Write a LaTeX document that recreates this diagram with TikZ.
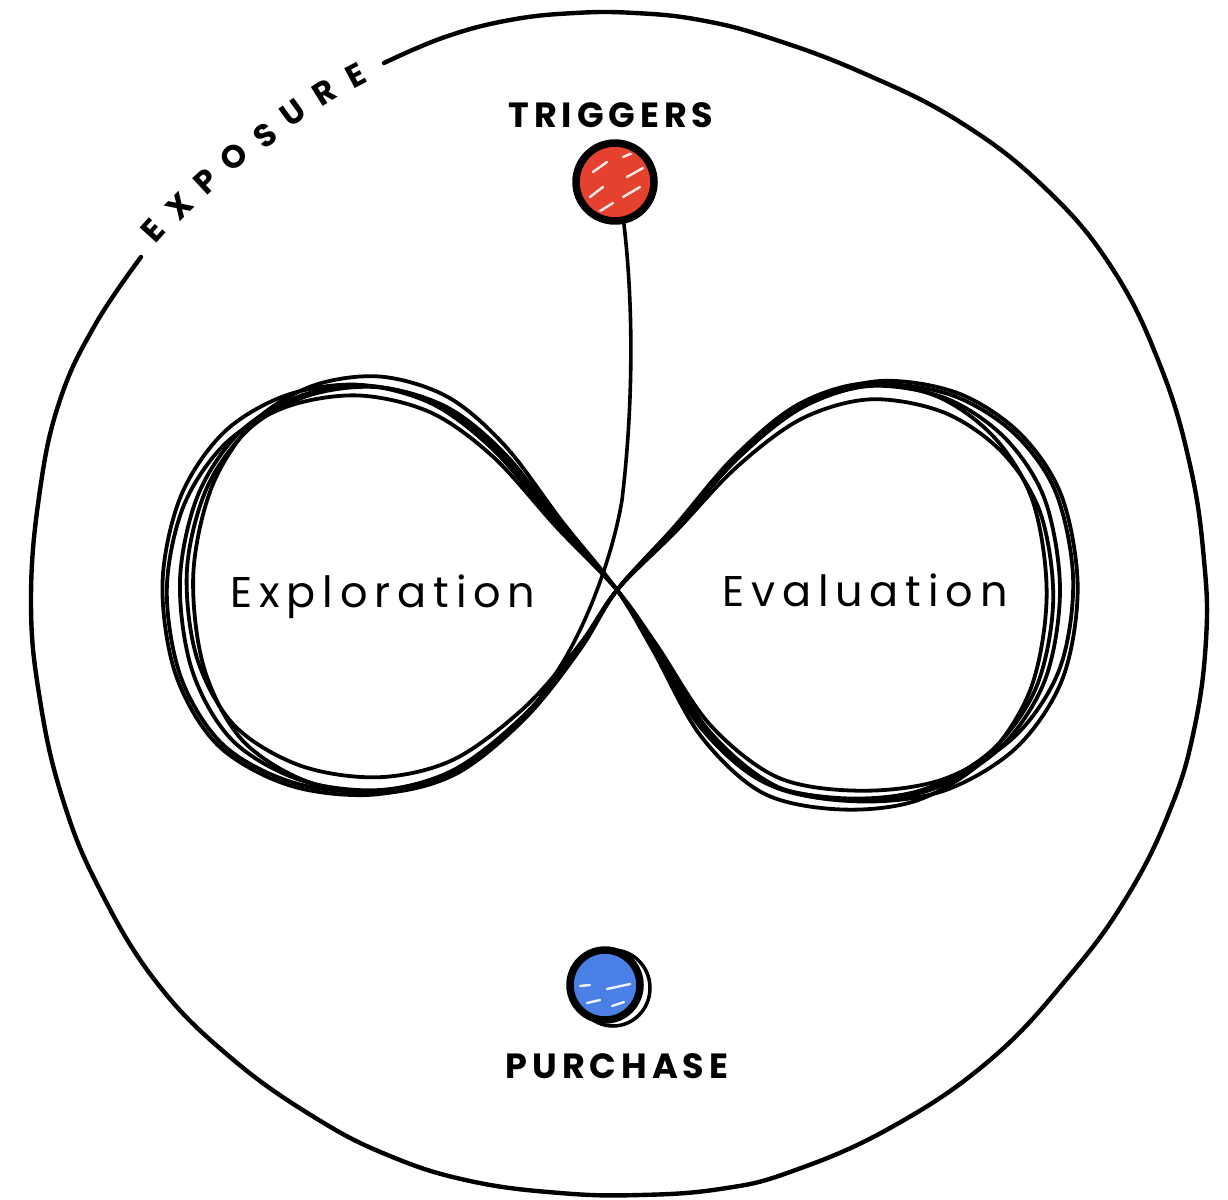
\documentclass[tikz,border=0pt]{standalone}
\usepackage{fontspec}
\setmainfont{Poppins}
\usetikzlibrary{calc}
\definecolor{trigred}{HTML}{E5412F}
\definecolor{purblue}{HTML}{4A7FE6}
\begin{document}
\begin{tikzpicture}[x=1pt,y=-1pt, line cap=round, line join=round,
  outline/.style={line width=4.4pt},
  loopstroke/.style={line width=3.8pt},
  big/.style={font=\fontsize{43}{50}\selectfont\addfontfeatures{LetterSpace=16}, inner sep=0pt, anchor=base},
  caps/.style={font=\fontsize{35}{42}\selectfont\bfseries\addfontfeatures{LetterSpace=14}, inner sep=0pt, anchor=base},
  expo/.style={font=\fontsize{32}{38}\selectfont\bfseries, inner sep=0pt},
  dotnode/.style={circle, inner sep=0pt, draw=black, line width=7.5pt},
  shine/.style={white, line width=2.4pt, opacity=0.9},
  tline/.style={line width=3.6pt}
]
\fill[white] (0,0) rectangle (1228,1199);
\path[use as bounding box] (0,0) rectangle (1228,1199);

% outer exposure boundary
\draw[outline] plot[smooth, tension=0.7] coordinates {
 (384,63) (445,37) (510,20) (575,13) (635,13) (700,20) (770,38) (863,73)
 (960,122) (1045,188) (1112,268) (1160,365) (1190,465) (1204,560) (1206,640)
 (1194,730) (1170,810) (1128,895) (1070,975) (990,1060) (890,1128) (790,1172)
 (720,1189) (640,1195) (560,1193) (470,1181) (390,1156) (314,1117) (230,1057)
 (157,983) (100,890) (63,800) (40,700) (31,600) (40,490) (60,400) (95,325)
 (141,257)};

% EXPOSURE label along the gap
\node[expo, rotate=48] (e1) at (153,231) {E};
\node[expo, rotate=45] (e2) at (180,206) {X};
\node[expo, rotate=43] (e3) at (206,181) {P};
\node[expo, rotate=40] (e4) at (234,157) {O};
\node[expo, rotate=38] (e5) at (265,136) {S};
\node[expo, rotate=36] (e6) at (293,113) {U};
\node[expo, rotate=32] (e7) at (324,92) {R};
\node[expo, rotate=28] (e8) at (356,76) {E};

% infinity loop, several overlapping strokes
\foreach \xs/\ys/\r in {1/1/0, 1.03/0.98/1.2, 0.97/1.03/-0.8, 1.04/1.015/0.4, 0.985/0.965/-1.4}{
 \begin{scope}[shift={(617,590)}, rotate=\r, xscale=\xs, yscale=\ys]
  \draw[loopstroke] plot[smooth cycle, tension=0.55] coordinates {
   (0,0) (-57,-65) (-117,-138) (-177,-185) (-247,-204) (-317,-194) (-377,-158)
   (-419,-95) (-437,-10) (-425,80) (-385,150) (-317,190) (-237,200) (-162,180)
   (-92,125) (-37,58)
   (0,0) (58,-62) (118,-130) (183,-182) (253,-204) (328,-192) (388,-152)
   (428,-90) (443,0) (428,90) (383,158) (313,200) (233,210) (153,195)
   (88,140) (38,58)};
 \end{scope}
}

% labels inside loops
\node[big] (explo) at (383,607) {Exploration};
\node[big] (evalu) at (865,606) {Evaluation};

% triggers dot
\node[dotnode, fill=trigred, minimum size=78pt] (trig) at (615,182) {};
\begin{scope}
 \clip (trig.center) circle [radius=33pt];
 \draw[shine] (593,172) -- (607,162);
 \draw[shine] (623,157) -- (637,151);
 \draw[shine] (590,197) -- (603,187);
 \draw[shine] (627,177) -- (643,168);
 \draw[shine] (597,213) -- (613,203);
 \draw[shine] (623,197) -- (640,187);
\end{scope}
\node[caps] (trigl) at (611,127) {TRIGGERS};

% connector from triggers into the loop
\coordinate (tbend) at (622,500);
\coordinate (tend) at (540,695);
\draw[tline] (trig.-78) .. controls (633,300) and (634,400) .. (tbend)
  .. controls (614,550) and (585,640) .. (tend);

% purchase dot
\draw[line width=3.5pt] (613,988) ellipse [x radius=37pt, y radius=38pt];
\node[dotnode, fill=purblue, minimum size=70pt] (purch) at (605,985) {};
\begin{scope}
 \clip (purch.center) circle [radius=31pt];
 \draw[shine] (580,986) -- (590,985);
 \draw[shine] (607,989) -- (630,984);
 \draw[shine] (587,1003) -- (600,1000);
 \draw[shine] (612,1006) -- (624,1002);
\end{scope}
\node[caps] (purchl) at (617,1078) {PURCHASE};
\end{tikzpicture}
\end{document}
